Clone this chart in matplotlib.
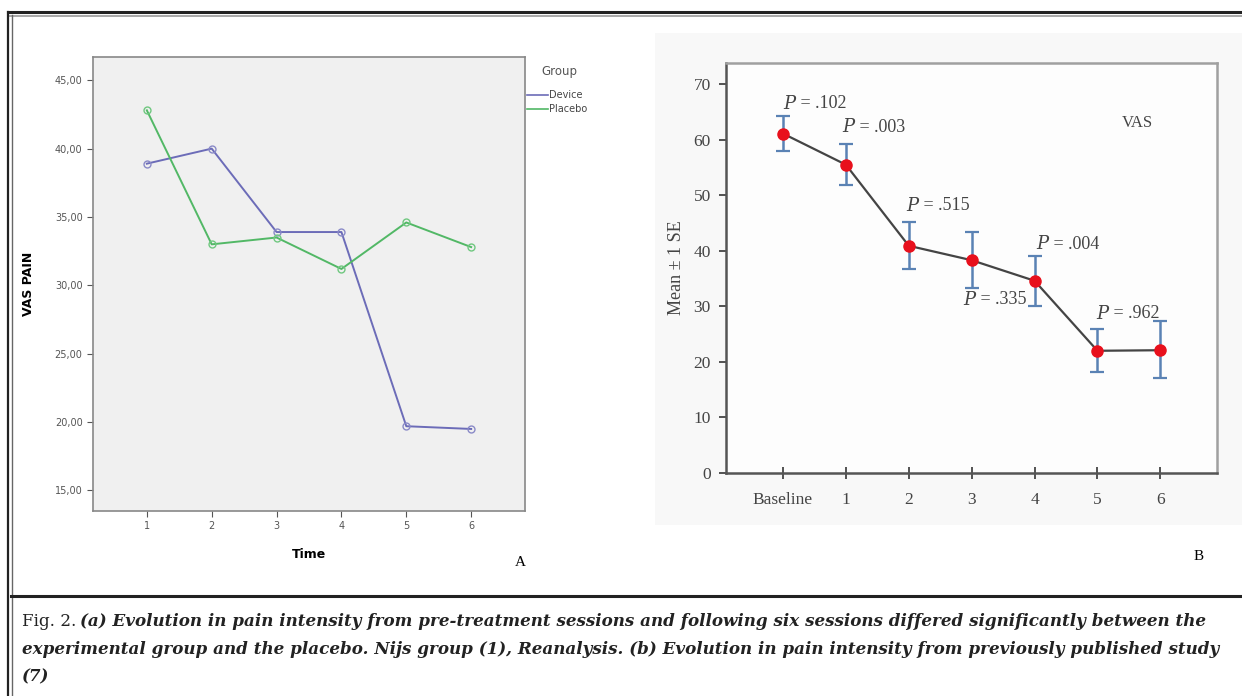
import matplotlib
matplotlib.use("Agg")
from matplotlib import pyplot as plt
from matplotlib.lines import Line2D
from matplotlib.patches import Rectangle

# panel A: VAS pain by group (SPSS style)
timesA=[1,2,3,4,5,6]
device=[38.9,40.0,33.9,33.9,19.7,19.5]
placebo=[42.8,33.0,33.5,31.2,34.6,32.8]
yticksA=[15,20,25,30,35,40,45]

# panel B: previously published study, mean +- 1 SE
labelsB=["Baseline","1","2","3","4","5","6"]
meanB=[61.1,55.5,40.9,38.3,34.6,22.0,22.1]
upperB=[64.3,59.3,45.2,43.4,39.0,25.9,27.4]
lowerB=[57.9,51.9,36.7,33.3,30.0,18.2,17.1]
pvals=[".102",".003",".515",".335",".004",".962"]

W,H=1242,696
fig=plt.figure(figsize=(W/100,H/100),dpi=100)
fig.patch.set_facecolor("white")

def fx(px): return px/W
def fy(py): return 1-py/H

# faint scanned background behind panel B
fig.add_artist(Rectangle((fx(655),fy(525)),fx(1242-655),(525-33)/H,facecolor="#f8f8f8",edgecolor="none",zorder=0))

# ---- panel A
axA=fig.add_axes([fx(93),fy(511),fx(525-93),(511-57)/H])
axA.set_facecolor("#f0f0f0")
axA.plot(timesA,device,color="#6c6cb8",lw=1.4,marker="o",ms=5,mfc="none",mec="#8a8ac8",mew=1,label="Device")
axA.plot(timesA,placebo,color="#52b866",lw=1.4,marker="o",ms=5,mfc="none",mec="#70c880",mew=1,label="Placebo")
axA.set_xlim(0.17,6.83)
axA.set_ylim(13.5,46.7)
axA.set_xticks(timesA)
axA.set_yticks(yticksA)
axA.set_yticklabels([f"{v},00" for v in yticksA])
axA.tick_params(labelsize=7,colors="#555555",length=4,direction="out")
for s in axA.spines.values():
    s.set_color("#888888"); s.set_linewidth(1.2)
axA.set_xlabel("Time",fontsize=9,fontweight="bold",labelpad=12)
axA.set_ylabel("VAS PAIN",fontsize=9,fontweight="bold",labelpad=14)
fig.text(fx(541),fy(72),"Group",fontsize=8.5,color="#555555",va="center")
for y,name,c in [(95,"Device","#6c6cb8"),(109,"Placebo","#52b866")]:
    fig.add_artist(Line2D([fx(527),fx(548)],[fy(y),fy(y)],color=c,lw=1.2))
    fig.text(fx(549),fy(y),name,fontsize=7,color="#444444",va="center")
fig.text(fx(520),fy(562),"A",fontsize=11,family="Liberation Serif",va="center",ha="center")

# ---- panel B
axB=fig.add_axes([fx(726),fy(473),fx(1217-726),(473-63)/H])
axB.set_facecolor("#fdfdfd")
xb=list(range(len(labelsB)))
err=[[m-l for m,l in zip(meanB,lowerB)],[u-m for m,u in zip(meanB,upperB)]]
axB.errorbar(xb,meanB,yerr=err,fmt="none",ecolor="#5a82b4",elinewidth=1.8,capsize=5,capthick=1.6,zorder=2)
axB.plot(xb,meanB,color="#444444",lw=1.6,zorder=3)
axB.plot(xb,meanB,"o",color="#e8101c",ms=8,zorder=4)
axB.set_xlim(-0.905,6.9)
axB.set_ylim(0,73.8)
axB.set_xticks(xb)
axB.set_xticklabels(labelsB)
axB.set_yticks(range(0,71,10))
for lab in axB.get_xticklabels()+axB.get_yticklabels():
    lab.set_family("Liberation Serif")
axB.tick_params(labelsize=12.5,colors="#444444",length=5,width=1.3,pad=6)
axB.tick_params(axis="x",direction="inout",length=8,pad=10)
for k in ["left","bottom"]:
    axB.spines[k].set_color("#555555"); axB.spines[k].set_linewidth(1.8)
for k in ["top","right"]:
    axB.spines[k].set_color("#a0a0a0"); axB.spines[k].set_linewidth(1.8)
axB.set_ylabel("Mean \u00b1 1 SE",fontsize=13,family="Liberation Serif",color="#444444",labelpad=6)

ppos=[(783,104),(842,127),(906,206),(963,300),(1036,244),(1096,314)]
for (px,py),p in zip(ppos,pvals):
    fig.text(fx(px),fy(py),"$P$",fontsize=13,va="center",color="#444444",
             math_fontfamily="dejavuserif")
    fig.text(fx(px+13),fy(py)," = "+p,fontsize=13,family="Liberation Serif",va="center",color="#444444")
fig.text(fx(1122),fy(123),"VAS",fontsize=12,family="Liberation Serif",va="center",color="#444444")
fig.text(fx(1199),fy(557),"B",fontsize=11,family="Liberation Serif",va="center",ha="center")

# ---- frame
fig.add_artist(Line2D([fx(8),fx(1242)],[fy(12),fy(12)],color="#222222",lw=2.2))
fig.add_artist(Line2D([fx(8),fx(1242)],[fy(15.5),fy(15.5)],color="#999999",lw=1.2))
fig.add_artist(Line2D([fx(7.5),fx(7.5)],[fy(12),fy(696)],color="#222222",lw=1.6))
fig.add_artist(Line2D([fx(11.5),fx(11.5)],[fy(15),fy(696)],color="#666666",lw=1.0))
fig.add_artist(Line2D([fx(11),fx(1242)],[fy(596),fy(596)],color="#222222",lw=2.2))

# ---- caption
cap1="(a) Evolution in pain intensity from pre-treatment sessions and following six sessions differed significantly between the"
cap2="experimental group and the placebo. Nijs group (1), Reanalysis. (b) Evolution in pain intensity from previously published study"
cap3="(7)"
capkw=dict(fontsize=12.05,family="DejaVu Serif",style="italic",fontweight="bold",va="center",color="#222222")
fig.text(fx(22),fy(622),"Fig. 2.",fontsize=12.05,family="DejaVu Serif",va="center",color="#222222")
fig.text(fx(80),fy(622),cap1,**capkw)
fig.text(fx(22),fy(649),cap2,**capkw)
fig.text(fx(22),fy(677),cap3,**capkw)

fig.savefig("out.png",dpi=100)
